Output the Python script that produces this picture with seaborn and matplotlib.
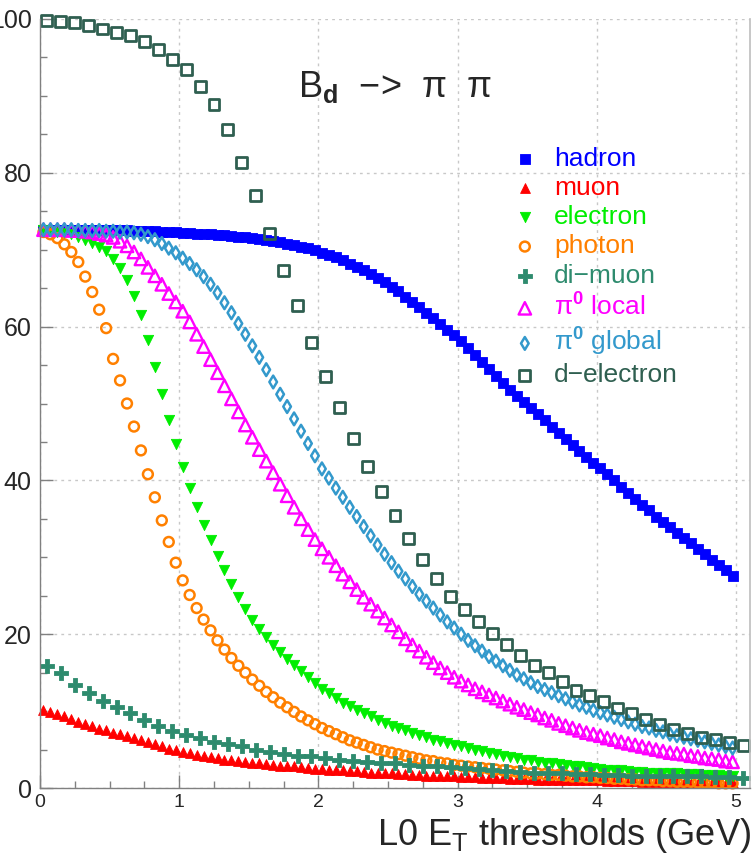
import matplotlib
matplotlib.use("Agg")
import matplotlib.pyplot as plt
import numpy as np
import seaborn as sns
from matplotlib.ticker import MultipleLocator

# L0 E_T threshold scan: fine bins (0.05 GeV) and coarse bins (0.1 GeV)
thr_fine = 0.025 + 0.05 * np.arange(100)
thr_coarse = 0.05 + 0.1 * np.arange(51)

hadron = [
    72.6, 72.6, 72.6, 72.6, 72.6, 72.5, 72.5, 72.5, 72.5, 72.5,
    72.5, 72.5, 72.5, 72.4, 72.4, 72.4, 72.4, 72.3, 72.3, 72.3,
    72.2, 72.2, 72.1, 72.1, 72.0, 71.9, 71.9, 71.8, 71.7, 71.6,
    71.5, 71.4, 71.3, 71.1, 71.0, 70.8, 70.6, 70.4, 70.2, 69.9,
    69.6, 69.3, 69.0, 68.6, 68.2, 67.8, 67.3, 66.8, 66.3, 65.8,
    65.2, 64.6, 63.9, 63.2, 62.5, 61.8, 61.1, 60.4, 59.6, 58.9,
    58.1, 57.2, 56.3, 55.4, 54.5, 53.6, 52.7, 51.8, 51.0, 50.2,
    49.4, 48.6, 47.8, 47.0, 46.2, 45.4, 44.6, 43.8, 43.0, 42.2,
    41.6, 40.8, 40.0, 39.2, 38.4, 37.6, 36.8, 36.1, 35.3, 34.6,
    33.9, 33.2, 32.5, 31.8, 31.1, 30.4, 29.7, 29.0, 28.3, 27.6,
]
muon = [
    10.1, 9.9, 9.6, 9.3, 9.0, 8.6, 8.3, 8.0, 7.7, 7.5,
    7.2, 7.0, 6.8, 6.5, 6.3, 6.0, 5.7, 5.4, 5.1, 4.9,
    4.7, 4.5, 4.3, 4.2, 4.0, 3.9, 3.7, 3.6, 3.5, 3.4,
    3.3, 3.2, 3.1, 3.0, 2.9, 2.8, 2.8, 2.7, 2.6, 2.5,
    2.5, 2.4, 2.3, 2.3, 2.2, 2.2, 2.1, 2.0, 2.0, 1.9,
    1.9, 1.8, 1.8, 1.7, 1.7, 1.6, 1.6, 1.5, 1.5, 1.5,
    1.4, 1.4, 1.4, 1.3, 1.3, 1.3, 1.3, 1.2, 1.2, 1.2,
    1.2, 1.1, 1.1, 1.1, 1.1, 1.1, 1.0, 1.0, 1.0, 1.0,
    1.0, 0.9, 0.9, 0.9, 0.9, 0.9, 0.8, 0.8, 0.8, 0.8,
    0.8, 0.8, 0.7, 0.7, 0.7, 0.7, 0.7, 0.6, 0.6, 0.6,
]
electron = [
    72.5, 72.4, 72.3, 72.2, 72.0, 71.7, 71.3, 70.9, 70.4, 69.8,
    68.8, 67.6, 66.0, 64.0, 61.5, 58.3, 54.8, 51.2, 47.8, 44.7,
    41.8, 39.0, 36.5, 34.2, 32.2, 30.2, 28.3, 26.5, 24.8, 23.3,
    21.9, 20.7, 19.6, 18.6, 17.7, 16.8, 16.0, 15.2, 14.4, 13.7,
    12.9, 12.3, 11.7, 11.1, 10.6, 10.1, 9.7, 9.3, 8.9, 8.5,
    8.1, 7.8, 7.5, 7.2, 6.9, 6.6, 6.3, 6.1, 5.8, 5.6,
    5.4, 5.2, 5.0, 4.8, 4.6, 4.4, 4.2, 4.0, 3.9, 3.7,
    3.6, 3.4, 3.3, 3.2, 3.1, 3.0, 2.9, 2.8, 2.7, 2.6,
    2.5, 2.4, 2.3, 2.3, 2.2, 2.1, 2.1, 2.0, 2.0, 1.9,
    1.9, 1.9, 1.8, 1.8, 1.8, 1.7, 1.7, 1.7, 1.6, 1.6,
]
photon = [
    72.3, 72.0, 71.5, 70.7, 69.7, 68.4, 66.5, 64.5, 62.2, 59.8,
    55.8, 53.0, 50.0, 47.0, 43.9, 40.8, 37.8, 34.8, 32.0, 29.3,
    27.0, 25.1, 23.4, 21.9, 20.5, 19.2, 18.0, 16.9, 15.9, 15.0,
    14.1, 13.3, 12.5, 11.8, 11.1, 10.5, 9.9, 9.3, 8.8, 8.3,
    7.8, 7.4, 7.0, 6.6, 6.2, 5.9, 5.6, 5.3, 5.0, 4.8,
    4.6, 4.4, 4.2, 4.0, 3.8, 3.6, 3.5, 3.3, 3.2, 3.0,
    2.9, 2.8, 2.7, 2.6, 2.5, 2.4, 2.3, 2.2, 2.1, 2.0,
    1.9, 1.9, 1.8, 1.7, 1.7, 1.6, 1.5, 1.5, 1.4, 1.4,
    1.3, 1.3, 1.2, 1.2, 1.1, 1.1, 1.0, 1.0, 1.0, 0.9,
    0.9, 0.8, 0.8, 0.8, 0.7, 0.7, 0.7, 0.6, 0.6, 0.6,
]
pi0_local = [
    72.6, 72.6, 72.6, 72.6, 72.5, 72.5, 72.4, 72.3, 72.1, 71.9,
    71.6, 71.1, 70.5, 69.7, 68.8, 67.7, 66.6, 65.5, 64.3, 63.2,
    62.0, 60.6, 59.0, 57.4, 55.7, 54.0, 52.3, 50.6, 48.9, 47.2,
    45.6, 44.0, 42.5, 41.0, 39.5, 38.0, 36.5, 35.0, 33.6, 32.3,
    31.1, 30.0, 28.9, 27.8, 26.8, 25.8, 24.8, 23.9, 23.0, 22.1,
    21.2, 20.3, 19.4, 18.6, 17.8, 17.0, 16.3, 15.6, 15.0, 14.4,
    13.9, 13.4, 12.9, 12.5, 12.1, 11.7, 11.3, 10.9, 10.5, 10.2,
    9.8, 9.5, 9.1, 8.8, 8.4, 8.1, 7.8, 7.5, 7.2, 7.0,
    6.8, 6.5, 6.3, 6.0, 5.8, 5.6, 5.4, 5.2, 5.0, 4.8,
    4.6, 4.5, 4.4, 4.2, 4.1, 3.9, 3.8, 3.7, 3.5, 3.4,
]
pi0_global = [
    72.6, 72.6, 72.6, 72.6, 72.6, 72.5, 72.5, 72.5, 72.5, 72.4,
    72.4, 72.3, 72.3, 72.2, 72.0, 71.7, 71.3, 70.8, 70.2, 69.6,
    68.9, 68.2, 67.4, 66.5, 65.5, 64.4, 63.1, 61.8, 60.4, 59.0,
    57.5, 56.0, 54.4, 52.8, 51.2, 49.6, 48.0, 46.4, 44.8, 43.2,
    41.5, 40.3, 39.0, 37.8, 36.5, 35.3, 34.0, 32.8, 31.6, 30.4,
    29.3, 28.2, 27.2, 26.2, 25.2, 24.3, 23.4, 22.5, 21.6, 20.8,
    20.0, 19.2, 18.5, 17.8, 17.1, 16.5, 15.9, 15.3, 14.7, 14.2,
    13.7, 13.2, 12.8, 12.4, 12.0, 11.6, 11.2, 10.8, 10.5, 10.1,
    9.8, 9.5, 9.2, 8.9, 8.6, 8.3, 8.0, 7.8, 7.5, 7.3,
    7.0, 6.8, 6.6, 6.4, 6.2, 6.0, 5.8, 5.6, 5.4, 5.2,
]
dimuon = [
    15.8, 15.0, 13.4, 12.3, 11.3, 10.5, 9.8, 8.9, 8.1, 7.4,
    6.9, 6.5, 6.0, 5.7, 5.4, 5.0, 4.7, 4.4, 4.2, 4.1,
    3.9, 3.7, 3.5, 3.4, 3.3, 3.2, 3.0, 2.9, 2.8, 2.7,
    2.6, 2.5, 2.4, 2.2, 2.1, 2.0, 1.9, 1.9, 1.8, 1.8,
    1.7, 1.7, 1.6, 1.6, 1.6, 1.5, 1.5, 1.5, 1.4, 1.4,
    1.3,
]
d_electron = [
    99.8, 99.7, 99.5, 99.2, 98.7, 98.3, 97.8, 97.1, 96.0, 94.7,
    93.4, 91.2, 88.9, 85.6, 81.4, 77.1, 72.1, 67.3, 62.8, 57.9,
    53.5, 49.5, 45.5, 41.8, 38.5, 35.4, 32.5, 29.7, 27.3, 24.9,
    23.2, 21.6, 20.1, 18.6, 17.2, 15.9, 15.0, 13.9, 12.7, 12.0,
    11.3, 10.4, 9.7, 8.9, 8.2, 7.6, 7.1, 6.6, 6.3, 5.9,
    5.5,
]

sns.set_theme(style="white")
plt.rcParams["font.family"] = ["Liberation Sans", "DejaVu Sans"]
plt.rcParams["mathtext.fontset"] = "custom"
plt.rcParams["mathtext.rm"] = "Liberation Sans"
plt.rcParams["mathtext.bf"] = "Liberation Sans:bold"
plt.rcParams["mathtext.it"] = "Liberation Sans:italic"

# x, y, label, marker, size, colour, filled, edge width
series = [
    (thr_fine, hadron, "hadron", "s", 42, "#0000ff", True, 0.6),
    (thr_fine, muon, "muon", "^", 50, "#ff0000", True, 0.6),
    (thr_fine, electron, "electron", "v", 55, "#00ee00", True, 0.6),
    (thr_fine, photon, "photon", "o", 50, "#ff8000", False, 1.8),
    (thr_coarse, dimuon, "di\u2212muon", "P", 95, "#2e8b6e", True, 0.6),
    (thr_fine, pi0_local, "\u03c0$^{\\mathbf{0}}$ local", "^", 80, "#ff00ff", False, 1.7),
    (thr_fine, pi0_global, "\u03c0$^{\\mathbf{0}}$ global", "d", 42, "#3399cc", False, 1.8),
    (thr_coarse, d_electron, "d\u2212electron", "s", 62, "#2f5f50", False, 2.0),
]

fig = plt.figure(figsize=(7.53, 8.58), dpi=100)
ax = fig.add_axes([40 / 753, 70 / 858, 710 / 753, 769 / 858])

for xs, ys, name, mk, size, col, filled, lw in series:
    sns.scatterplot(
        x=xs,
        y=ys,
        marker=mk,
        s=size,
        color=col,
        facecolor=col if filled else "none",
        edgecolor=col,
        linewidth=lw,
        label=name,
        clip_on=False,
        ax=ax,
    )

ax.set_xlim(0, 5.1)
ax.set_ylim(0, 100)
ax.xaxis.set_major_locator(MultipleLocator(1))
ax.xaxis.set_minor_locator(MultipleLocator(0.25))
ax.yaxis.set_major_locator(MultipleLocator(20))
ax.yaxis.set_minor_locator(MultipleLocator(5))
ax.tick_params(which="both", direction="in", color="#808080", bottom=True, left=True, top=False, right=False)
ax.tick_params(which="major", length=9.5, width=1)
ax.tick_params(which="minor", length=5, width=1)
ax.tick_params(axis="x", labelsize=14, pad=4)
ax.tick_params(axis="y", labelsize=18, pad=6)
ax.grid(True, which="major", color="#c8c8c8", linestyle=(0, (2, 3)), linewidth=1)

for side in ["left", "bottom"]:
    ax.spines[side].set_color("#808080")
    ax.spines[side].set_linewidth(1)
ax.spines["right"].set_color("#c0c0c0")
ax.spines["top"].set_visible(False)

ax.set_xlabel("L0 E$_{\\mathrm{T}}$ thresholds (GeV)", fontsize=26, loc="right")
ax.xaxis.set_label_coords(1.002, -0.036)

ax.text(0.5, 0.8986, "B$_{\\mathbf{d}}$  \u2212>  \u03c0  \u03c0", transform=ax.transAxes,
        ha="center", va="baseline", fontsize=26)

leg = ax.legend(loc="upper left", bbox_to_anchor=(0.668, 0.834), frameon=False, fontsize=19,
                scatterpoints=1, handlelength=0.8, handletextpad=0.7, labelspacing=0.2,
                borderpad=0, borderaxespad=0)
for txt, s in zip(leg.get_texts(), series):
    txt.set_color(s[5])

fig.savefig("out.png", dpi=100)
plt.close(fig)
